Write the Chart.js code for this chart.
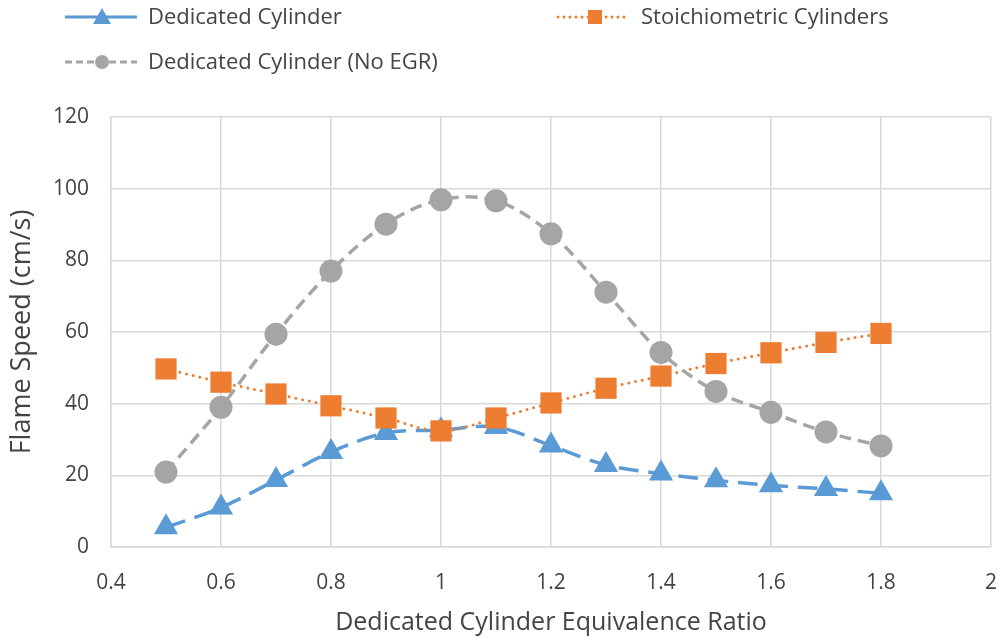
<!DOCTYPE html>
<html>
<head>
<meta charset="utf-8">
<script src="https://cdn.jsdelivr.net/npm/chart.js@4/dist/chart.umd.min.js"></script>
<style>
html,body{margin:0;padding:0;background:#fff;}
#wrap{width:998px;height:638px;position:relative;}
</style>
</head>
<body>
<div id="wrap"><canvas id="c" width="998" height="638"></canvas></div>
<script>
const ratios = [0.5,0.6,0.7,0.8,0.9,1.0,1.1,1.2,1.3,1.4,1.5,1.6,1.7,1.8];
const dedicated = [5.5,11,18.7,26.5,31.8,32.6,33.5,28.3,22.9,20.5,18.6,17.2,16.2,15];
const stoich = [49.7,46,42.7,39.4,36,32.4,36,40.2,44.3,47.7,51.2,54.2,57.1,59.6];
const noEgr = [20.9,39,59.4,77,90.1,96.9,96.6,87.4,71.1,54.3,43.4,37.6,32.1,28.2];
const seriesNames = ["Dedicated Cylinder","Stoichiometric Cylinders","Dedicated Cylinder (No EGR)"];
const xTitle = "Dedicated Cylinder Equivalence Ratio";
const yTitle = "Flame Speed (cm/s)";

const BLUE = "#5B9BD5", ORANGE = "#ED7D31", GRAY = "#A5A5A5";
const TXT = "#444444";
const FONT = "'Open Sans', sans-serif";
const toXY = arr => arr.map((v,i)=>({x:ratios[i], y:v}));

const legendPlugin = {
  id:'customLegend',
  afterDraw(chart){
    const ctx = chart.ctx;
    ctx.save();
    const items = [
      {name:seriesNames[0], color:BLUE, dash:[], style:'triangle', x0:65, y:17},
      {name:seriesNames[2], color:GRAY, dash:[7,4], style:'circle', x0:65, y:62},
      {name:seriesNames[1], color:ORANGE, dash:[0,6], style:'rect', x0:558, y:17}
    ];
    items.forEach(it=>{
      ctx.strokeStyle = it.color;
      ctx.lineWidth = 3;
      ctx.setLineDash(it.dash);
      ctx.lineCap = it.style==='rect' ? 'round' : 'butt';
      ctx.beginPath(); ctx.moveTo(it.x0, it.y); ctx.lineTo(it.x0+72, it.y); ctx.stroke();
      ctx.setLineDash([]);
      const cx = it.x0+37;
      ctx.fillStyle = it.color;
      ctx.beginPath();
      if(it.style==='triangle'){ ctx.moveTo(cx, it.y-9); ctx.lineTo(cx+9, it.y+7); ctx.lineTo(cx-9, it.y+7); ctx.closePath(); }
      else if(it.style==='circle'){ ctx.arc(cx, it.y, 7, 0, Math.PI*2); }
      else { ctx.rect(cx-7, it.y-7, 14, 14); }
      ctx.fill();
      ctx.fillStyle = TXT;
      ctx.font = "22px " + FONT;
      ctx.textBaseline = 'middle';
      ctx.textAlign = 'left';
      ctx.fillText(it.name, it.x0+83, it.y+1);
    });
    ctx.restore();
  }
};

new Chart(document.getElementById('c'), {
  type:'line',
  data:{
    datasets:[
      {label:seriesNames[0], data:toXY(dedicated), borderColor:BLUE, backgroundColor:BLUE,
       borderWidth:3.5, borderDash:[20,10], pointStyle:'triangle', pointRadius:14, pointHoverRadius:14,
       pointBorderWidth:0, tension:0.35, order:3},
      {label:seriesNames[1], data:toXY(stoich), borderColor:ORANGE, backgroundColor:ORANGE,
       borderWidth:3, borderDash:[0,7], borderCapStyle:'round', pointStyle:'rect', pointRadius:15, pointHoverRadius:15,
       pointBorderWidth:0, tension:0.35, order:2},
      {label:seriesNames[2], data:toXY(noEgr), borderColor:GRAY, backgroundColor:GRAY,
       borderWidth:3.5, borderDash:[12,7], pointStyle:'circle', pointRadius:11.5, pointHoverRadius:11.5,
       pointBorderWidth:0, tension:0.35, order:1}
    ]
  },
  options:{
    responsive:false,
    animation:false,
    devicePixelRatio:1,
    layout:{autoPadding:false, padding:{top:117, right:7, left:0, bottom:0}},
    plugins:{legend:{display:false}, tooltip:{enabled:false}},
    scales:{
      x:{type:'linear', min:0.4, max:2,
        ticks:{stepSize:0.2, color:TXT, font:{size:21, family:FONT}, padding:0,
          callback:v=>Math.round(v*10)/10 + ''},
        grid:{color:'#D9D9D9', lineWidth:1.5, drawTicks:true, tickLength:23, tickColor:'rgba(0,0,0,0)'},
        border:{color:'#D9D9D9', width:1.5},
        title:{display:true, text:xTitle, color:TXT, font:{size:25, family:FONT}, padding:{top:0,bottom:0}},
        afterFit(s){ s.height = 91; s.paddingRight = 0; s.paddingLeft = 0; }
      },
      y:{min:0, max:120,
        ticks:{stepSize:20, color:TXT, font:{size:21, family:FONT}, padding:0},
        grid:{color:'#D9D9D9', lineWidth:1.5, drawTicks:true, tickLength:22, tickColor:'rgba(0,0,0,0)'},
        border:{color:'#D9D9D9', width:1.5},
        title:{display:true, text:yTitle, color:TXT, font:{size:27, family:FONT}, padding:{top:6,bottom:0}},
        afterFit(s){ s.width = 111; s.paddingTop = 0; s.paddingBottom = 0; }
      }
    }
  },
  plugins:[legendPlugin]
});
</script>
</body>
</html>
